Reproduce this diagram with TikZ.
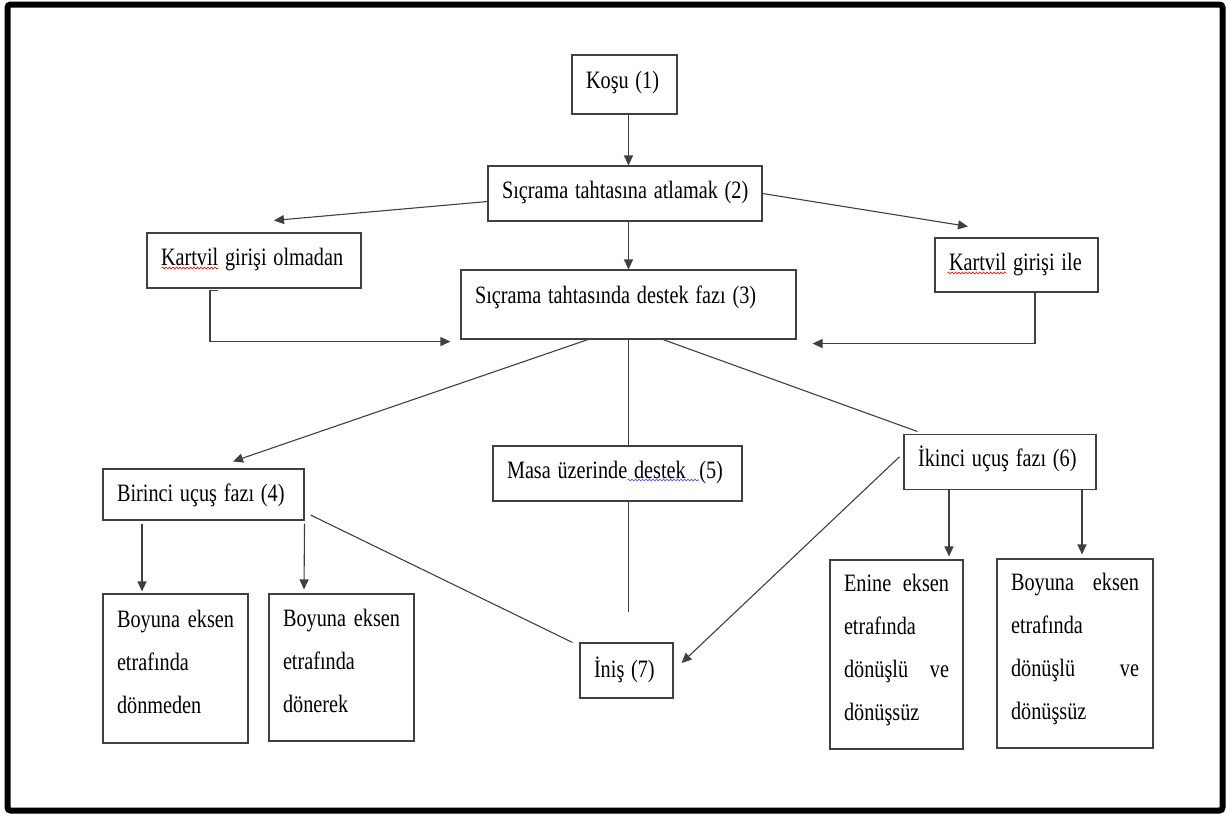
\documentclass[tikz,border=0pt]{standalone}
\usepackage{fontspec}
\usepackage{graphicx}
\setmainfont{Liberation Serif}
\usetikzlibrary{arrows.meta,decorations.pathmorphing}
\newcommand{\sqz}[1]{\scalebox{0.81}[1]{#1}}
\newcommand{\padbot}{\rule[-14pt]{0pt}{14pt}}

\begin{document}
\begin{tikzpicture}[
  x=1pt, y=-1pt, >={Triangle[length=10pt,width=9pt]},
  lbl/.style={draw=black!75, line width=1.1pt, inner xsep=14pt, inner ysep=0pt, align=left,
              text height=17pt, text depth=7pt, font=\fontsize{25}{43}\selectfont},
  tall/.style={draw=black!75, line width=1.1pt, inner xsep=14pt, inner ysep=0pt, align=left,
               font=\fontsize{25}{43}\selectfont},
  link/.style={draw=black!75, line width=1.1pt},
  typo/.style={decorate, decoration={snake, amplitude=1pt, segment length=3.5pt}, line width=0.6pt}]

  \useasboundingbox (0,0) rectangle (1227,814);
  \draw[line width=6pt, rounded corners=3pt] (7.5,4.5) rectangle (1222.5,810.5);

  % --- run-up and take-off ---
  \node[lbl, text width=77pt, minimum height=59pt, text depth=9pt] (kosu) at (624.5,84.5) {\sqz{Koşu (1)}};
  \node[lbl, text width=246pt, minimum height=55pt] (atla) at (625,193.5) {\sqz{Sıçrama tahtasına atlamak (2)}};
  \node[lbl, text width=307pt, minimum height=69pt, text depth=19pt] (destek) at (628.5,304.5) {\sqz{Sıçrama tahtasında destek fazı (3)}};
  \node[lbl, text width=186pt, minimum height=55pt, text depth=8pt] (olmadan) at (254,260.5) {\sqz{Kartvil girişi olmadan}};
  \node[lbl, text width=135pt, minimum height=54pt] (ile) at (1016.5,265) {\sqz{Kartvil girişi ile}};

  % --- flight phases and landing ---
  \node[lbl, text width=173pt, minimum height=51pt, text depth=3pt] (birinci) at (203.5,494.5) {\sqz{Birinci uçuş fazı (4)}};
  \node[lbl, text width=221pt, minimum height=55pt, text depth=8pt] (masa) at (617.5,473.5) {\sqz{Masa üzerinde destek\ \ (5)}};
  \node[lbl, text width=164pt, minimum height=55.5pt] (ikinci) at (1000,461.8) {\sqz{İkinci uçuş fazı (6)}};
  \node[lbl, text width=65pt, minimum height=55pt, text depth=3pt] (inis) at (626.5,670.5) {\sqz{İniş (7)}};

  % --- rotation variants ---
  \node[tall, text width=117pt, minimum height=149pt] (donmeden) at (175.5,668.5)
    {\sqz{Boyuna}\hfill\sqz{eksen}\\ \sqz{etrafında}\\ \sqz{dönmeden}\padbot};
  \node[tall, text width=117pt, minimum height=147pt] (donerek) at (341.5,667.5)
    {\sqz{Boyuna}\hfill\sqz{eksen}\\ \sqz{etrafında}\\ \sqz{dönerek}\padbot};
  \node[tall, text width=105pt, minimum height=189pt] (enine) at (896.5,654.5)
    {\sqz{Enine}\hfill\sqz{eksen}\\ \sqz{etrafında}\\ \sqz{dönüşlü}\hfill\sqz{ve}\\ \sqz{dönüşsüz}\padbot};
  \node[tall, text width=128pt, minimum height=189pt] (boyuna) at (1075,653.5)
    {\sqz{Boyuna}\hfill\sqz{eksen}\\ \sqz{etrafında}\\ \sqz{dönüşlü}\hfill\sqz{ve}\\ \sqz{dönüşsüz}\padbot};

  % --- spell-check marks ---
  \draw[typo, red] ([xshift=15pt,yshift=-7.5pt]olmadan.west) -- ++(57,0);
  \draw[typo, red] ([xshift=13pt,yshift=-8pt]ile.west) -- ++(59,0);
  \draw[typo, blue!70] ([xshift=135pt,yshift=-6.5pt]masa.west) -- ++(72,0);

  % --- free ends ---
  \coordinate (olmTip) at ([xshift=20pt,yshift=12pt]olmadan.north);
  \coordinate (ileTip) at ([xshift=-48.5pt,yshift=11pt]ile.north);
  \coordinate (desL) at ([xshift=-10pt,yshift=-2pt]destek.south west);
  \coordinate (desR) at ([xshift=16pt,yshift=-4pt]destek.south east);
  \coordinate (birTip) at ([xshift=29.5pt,yshift=7pt]birinci.north);
  \coordinate (ikiTop) at ([xshift=14pt,yshift=2pt]ikinci.north west);
  \coordinate (inisTip) at ([xshift=8pt,yshift=7.5pt]inis.east);
  \path (masa.south -| destek.south) ++(0,110) coordinate (masEnd);

  \draw[link,->] (kosu.south -| destek.north) -- (atla.north -| destek.north);
  \draw[link,->] ([yshift=-8pt]atla.west) -- (olmTip);
  \draw[link,->] (atla.east) -- (ileTip);
  \draw[link,->] (atla.south -| destek.north) -- (destek.north);
  \draw[link,->] ([xshift=-36pt,yshift=-2pt]olmadan.south) -- ++(-8,0) |- (desL);
  \draw[link,->] ([xshift=18.5pt]ile.south) |- (desR);

  \draw[link,->] ([xshift=-40.5pt]destek.south) -- (birTip);
  \draw[link] (destek.south) -- (destek.south |- masa.north);
  \draw[link] (masa.south -| destek.south) -- (masEnd);
  \draw[link] ([xshift=34.5pt]destek.south) -- (ikiTop);
  \draw[link,->] ([xshift=-4pt,yshift=5pt]ikinci.west) -- (inisTip);
  \draw[link] ([xshift=6pt,yshift=-20.5pt]birinci.east) -- ([xshift=-7pt]inis.north west);

  \draw[link,->] ([xshift=-61.5pt,yshift=-3pt]birinci.south) -- ([xshift=-33.5pt,yshift=2pt]donmeden.north);
  \draw[link,->] ([yshift=-3pt]birinci.south east) -- ([xshift=-37.5pt,yshift=4pt]donerek.north);
  \draw[link,->] ([xshift=-51pt]ikinci.south) -- ([xshift=52.5pt,yshift=3pt]enine.north);
  \draw[link,->] ([xshift=82pt]ikinci.south) -- ([xshift=7pt,yshift=4pt]boyuna.north);
\end{tikzpicture}
\end{document}
